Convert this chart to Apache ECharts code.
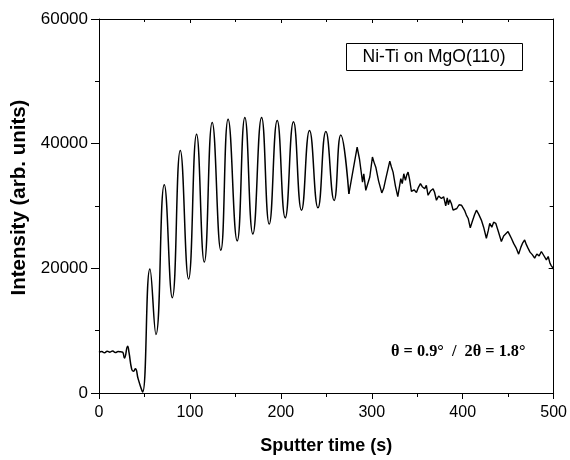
<!DOCTYPE html>
<html>
<head>
<meta charset="utf-8">
<script src="https://cdn.jsdelivr.net/npm/echarts@6/dist/echarts.min.js"></script>
<style>html,body{margin:0;padding:0;background:#fff;}#c{width:570px;height:460px;}</style>
</head>
<body>
<div id="c"></div>
<script>
// Oscillating part (sputter time in s, intensity in arb. units)
var timeA = [0, 3, 6, 9, 12, 15, 18, 21, 24, 26, 28, 31.5, 33, 36, 38, 40, 43, 46, 48,
  56, 62.6, 71.8, 80.6, 89.4, 98.5, 107.3, 115.8, 124.5, 134, 142, 152, 160.4, 169.2,
  178.8, 187.2, 196, 204.8, 213.9, 222.7, 231.5, 240.8, 249.5, 258.6, 265.9, 274.8];
var intensityA = [6500, 6650, 6450, 6700, 6550, 6750, 6500, 6650, 6600, 6550, 5600, 7500, 6500, 3800, 3500, 3900, 2300, 900, 150,
  19900, 9400, 33400, 15300, 38900, 18300, 41500, 21000, 43400, 22900, 43900, 24400, 44200, 25500,
  44200, 27100, 43700, 28100, 43500, 29300, 42100, 29700, 41950, 30900, 41400, 31950];
// Noisy tail
var timeB = [274.8, 283.9, 286.5, 289.8, 291.2, 293.4, 297.8, 300.7, 302.5, 304.4, 307.5, 311, 313, 315.4, 319.8, 321.5, 323.4, 326, 328.6,
  331.9, 333.5, 335.2, 337, 338.5, 339.9, 341.5, 343.6, 346.5, 349.1, 351, 353.5, 355.5, 358.2, 360, 361.9, 364.5, 367.4, 369, 371.1, 373.5, 376.6, 379, 381.3, 383, 384.2, 385.7,
  387.5, 389.4, 391.2, 393.5, 396, 398.6, 400.4, 402, 404, 406, 408.3, 410.5, 413, 415.1, 417.5, 420.5, 423, 426, 428, 429.7, 432, 434, 436.3, 439, 442.5, 445, 447, 449.8, 451.5, 453.5,
  456, 459, 461.5, 464, 466, 468.1, 470, 471.8, 474, 476.5, 479.1, 481.5, 484, 486.5, 489, 492, 494, 496, 497.5, 499.3, 500];
var intensityB = [31950, 39450, 37500, 33840, 35170, 32520, 34650, 37850, 37000, 36230, 34000, 32100, 32800, 34380, 37200, 36300, 35440, 33200, 31500,
  34380, 33600, 35170, 34110, 35000, 35440, 34300, 32350, 32600, 32150, 32900, 33580, 33100, 32780, 33300, 31720, 32400, 32780, 32200, 30920, 31600, 31190, 31500, 30020, 31300, 30200, 31000,
  30400, 29330, 29060, 29600, 30200, 30130, 29870, 29300, 28540, 28000, 26500, 27500, 28600, 29330, 28700, 27740, 26600, 24830, 26000, 27220, 26600, 27400, 27220, 26000, 24300, 25200, 24900, 25890, 25400, 24830,
  24000, 23200, 22280, 23400, 24100, 24560, 23800, 23240, 22600, 22200, 21640, 22300, 22000, 22700, 22100, 21370, 21900, 20800, 20400, 20050, 19800];

var xTicks = [0, 100, 200, 300, 400, 500];
var yTicks = [0, 20000, 40000, 60000];
var boxLabel = 'Ni-Ti on MgO(110)';
var angleLabel = 'θ = 0.9°  /  2θ = 1.8°';
var xName = 'Sputter time (s)';
var yName = 'Intensity (arb. units)';

function pairs(t, v) { return t.map(function (x, i) { return [x, v[i]]; }); }

var sans = '"Liberation Sans", Arial, sans-serif';
var chart = echarts.init(document.getElementById('c'), null, {renderer: 'canvas'});
var axisLine = {show: true, onZero: false, lineStyle: {color: '#000', width: 1}};
chart.setOption({
  animation: false,
  backgroundColor: '#fff',
  grid: {left: 99, right: 16, top: 19, bottom: 64, containLabel: false},
  xAxis: [{
    type: 'value', min: xTicks[0], max: xTicks[xTicks.length - 1], interval: 100,
    name: xName, nameLocation: 'middle', nameGap: 44,
    nameTextStyle: {fontFamily: sans, fontWeight: 'bold', fontSize: 18, color: '#000'},
    axisLine: axisLine,
    axisTick: {show: true, length: 6, inside: false, lineStyle: {color: '#000'}},
    minorTick: {show: true, splitNumber: 2, length: 4, lineStyle: {color: '#000'}},
    axisLabel: {fontFamily: sans, fontSize: 16, color: '#000', margin: 12, formatter: function (v) { return String(v); }},
    splitLine: {show: false}
  }, {
    type: 'value', position: 'top', min: xTicks[0], max: xTicks[xTicks.length - 1], interval: 100,
    axisLine: axisLine,
    axisTick: {show: true, length: 4, inside: true, lineStyle: {color: '#000'}},
    minorTick: {show: true, splitNumber: 2, length: 3, lineStyle: {color: '#000'}},
    axisLabel: {show: false}, splitLine: {show: false}
  }],
  yAxis: [{
    type: 'value', min: yTicks[0], max: yTicks[yTicks.length - 1], interval: 20000,
    name: yName, nameLocation: 'middle', nameGap: 62, nameRotate: 90,
    nameTextStyle: {fontFamily: sans, fontWeight: 'bold', fontSize: 20.5, color: '#000', padding: [0, 0, 0, 17]},
    axisLine: axisLine,
    axisTick: {show: true, length: 8, inside: false, lineStyle: {color: '#000'}},
    minorTick: {show: true, splitNumber: 2, length: 4, lineStyle: {color: '#000'}},
    axisLabel: {fontFamily: sans, fontSize: 17, color: '#000', margin: 11, formatter: function (v) { return String(v); }},
    splitLine: {show: false}
  }, {
    type: 'value', position: 'right', min: yTicks[0], max: yTicks[yTicks.length - 1], interval: 20000,
    axisLine: axisLine,
    axisTick: {show: true, length: 5, inside: true, lineStyle: {color: '#000'}},
    minorTick: {show: true, splitNumber: 2, length: 4, lineStyle: {color: '#000'}},
    axisLabel: {show: false}, splitLine: {show: false}
  }],
  series: [{
    type: 'line', data: pairs(timeA, intensityA), smooth: 0.5,
    showSymbol: false, lineStyle: {color: '#000', width: 1.5}, z: 3
  }, {
    type: 'line', data: pairs(timeB, intensityB), smooth: false,
    showSymbol: false, lineStyle: {color: '#000', width: 1.4}, z: 3
  }],
  graphic: [{
    type: 'rect', left: 346, top: 43, shape: {width: 176, height: 27},
    style: {fill: '#fff', stroke: '#000', lineWidth: 1}, z: 10
  }, {
    type: 'text', x: 434, y: 57,
    style: {text: boxLabel, font: '17.5px ' + sans, fill: '#000', align: 'center', verticalAlign: 'middle'}, z: 11
  }, {
    type: 'text', x: 391, y: 352,
    style: {text: angleLabel, font: 'bold 16.3px "Liberation Serif", "Times New Roman", serif', fill: '#000', align: 'left', verticalAlign: 'middle'}, z: 11
  }]
});
</script>
</body>
</html>
